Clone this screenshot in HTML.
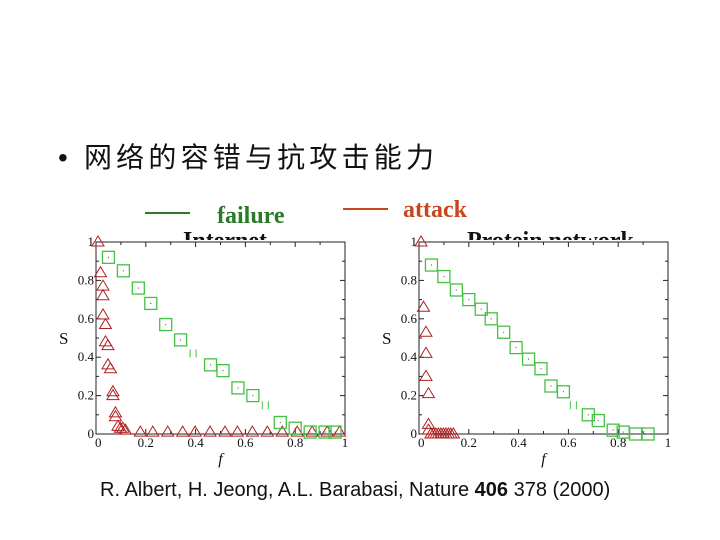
<!DOCTYPE html>
<html><head><meta charset="utf-8">
<style>
body{margin:0;background:#fff;}
#root{position:relative;width:720px;height:540px;overflow:hidden;background:#fff;font-family:"Liberation Serif",serif;}
.abs{position:absolute;white-space:nowrap;}
</style></head>
<body>
<div id="root">
<div class="abs" style="left:58px;top:136px;font:28px 'Liberation Sans','Noto Sans CJK SC',sans-serif;letter-spacing:4.2px;color:#111;">•&nbsp;网络的容错与抗攻击能力</div>
<div class="abs" style="left:145px;top:212px;width:45px;height:2px;background:#2a7a2a;"></div>
<div class="abs" style="left:217px;top:203px;font:bold 24px 'Liberation Serif',serif;color:#2a7a2a;">failure</div>
<div class="abs" style="left:343px;top:208px;width:45px;height:2px;background:#c8461e;"></div>
<div class="abs" style="left:403px;top:197px;font:bold 24px 'Liberation Serif',serif;color:#c8461e;">attack</div>
<div class="abs" style="left:183px;top:229px;height:11px;overflow:hidden;font:bold 24px 'Liberation Serif',serif;color:#111;line-height:24px;">Internet</div>
<div class="abs" style="left:467px;top:229px;height:11px;overflow:hidden;font:bold 24px 'Liberation Serif',serif;color:#111;line-height:24px;">Protein network</div>
<svg id="chart" class="abs" style="left:0;top:0" width="720" height="540"></svg>
<div class="abs" style="left:100px;top:479px;font:20px 'Liberation Sans',sans-serif;color:#111;">R. Albert, H. Jeong, A.L. Barabasi, Nature <b>406</b> 378 (2000)</div>
</div>
<script>
const xTicks=[0,0.2,0.4,0.6,0.8,1];
const xTickLabels=["0","0.2","0.4","0.6","0.8","1"];
const yTicks=[0,0.2,0.4,0.6,0.8,1];
const yTickLabels=["0","0.2","0.4","0.6","0.8","1"];
const internetFailF=[0.05,0.11,0.17,0.22,0.28,0.34,0.46,0.51,0.57,0.63,0.74,0.80,0.86,0.92,0.96];
const internetFailS=[0.92,0.85,0.76,0.68,0.57,0.49,0.36,0.33,0.24,0.20,0.06,0.03,0.01,0.01,0.01];
const internetAttF=[0,0.01,0.02,0.02,0.02,0.03,0.03,0.04,0.04,0.05,0.06,0.06,0.07,0.07,0.08,0.09,0.1,0.11,0.17,0.22,0.28,0.34,0.39,0.45,0.51,0.56,0.62,0.68,0.74,0.80,0.86,0.92,0.97];
const internetAttS=[1,0.84,0.77,0.72,0.62,0.57,0.48,0.46,0.36,0.34,0.22,0.20,0.11,0.09,0.04,0.03,0.03,0.02,0.01,0.01,0.01,0.01,0.01,0.01,0.01,0.01,0.01,0.01,0.01,0.01,0.01,0.01,0.01];
const proteinFailF=[0.05,0.1,0.15,0.2,0.25,0.29,0.34,0.39,0.44,0.49,0.53,0.58,0.68,0.72,0.78,0.82,0.87,0.92];
const proteinFailS=[0.88,0.82,0.75,0.70,0.65,0.60,0.53,0.45,0.39,0.34,0.25,0.22,0.10,0.07,0.02,0.01,0.0,0.0];
const proteinAttF=[0,0.01,0.02,0.02,0.02,0.03,0.03,0.03,0.04,0.05,0.06,0.07,0.08,0.09,0.1,0.11,0.12,0.13];
const proteinAttS=[1,0.66,0.53,0.42,0.30,0.21,0.05,0.02,0,0,0,0,0,0,0,0,0,0];
const internetErrF=[0.39,0.68]; const internetErrS=[0.42,0.15];
const proteinErrF=[0.62]; const proteinErrS=[0.15];

const svg=document.getElementById('chart');
const NS='http://www.w3.org/2000/svg';
function mk(tag,attrs,parent){const e=document.createElementNS(NS,tag);for(const k in attrs)e.setAttribute(k,attrs[k]);(parent||svg).appendChild(e);return e;}
function panel(name,x0,x1,y0,y1,failF,failS,attF,attS,errF,errS){
  const g=mk('g',{});
  
  
  const sx=f=>x0+f*(x1-x0), sy=s=>y0-s*(y0-y1);
  const fr=mk('rect',{x:x0,y:y1,width:x1-x0,height:y0-y1,fill:'none',stroke:'#222','stroke-width':1},g);
  
  
  for(let i=0;i<=10;i++){const xx=sx(i/10);mk('line',{x1:xx,y1:y0,x2:xx,y2:y0-(i%2?3:5),stroke:'#222'},g);mk('line',{x1:xx,y1:y1,x2:xx,y2:y1+(i%2?3:5),stroke:'#222'},g);
    const yy=sy(i/10);mk('line',{x1:x0,y1:yy,x2:x0+(i%2?3:5),y2:yy,stroke:'#222'},g);mk('line',{x1:x1,y1:yy,x2:x1-(i%2?3:5),y2:yy,stroke:'#222'},g);}
  xTicks.forEach((t,i)=>{const tx=mk('text',{x:sx(t)+(i==0?-1:0),y:y0+13,'text-anchor':i==0?'start':'middle','font-family':'Liberation Serif, serif','font-size':13,fill:'#111'},g);tx.textContent=xTickLabels[i];
    });
  yTicks.forEach((t,i)=>{const tx=mk('text',{x:x0-2,y:sy(t)+4,'text-anchor':'end','font-family':'Liberation Serif, serif','font-size':13,fill:'#111'},g);tx.textContent=yTickLabels[i];
    });
  const xl=mk('text',{x:sx(0.5),y:y0+30,'text-anchor':'middle','font-family':'Liberation Serif, serif','font-style':'italic','font-size':16,fill:'#111'},g);xl.textContent='f';
  
  const yl=mk('text',{x:x0-37,y:sy(0.5)+6,'font-family':'Liberation Serif, serif','font-size':17,fill:'#111'},g);yl.textContent='S';
  
  attF.forEach((f,i)=>{const cx=sx(f)+2,cy=sy(attS[i]);const p=mk('polygon',{points:`${cx-6},${cy+4} ${cx+6},${cy+4} ${cx},${cy-6}`,fill:'none',stroke:'#b02020','stroke-width':1},g);
    });
  failF.forEach((f,i)=>{const cx=sx(f),cy=sy(failS[i]);const r=mk('rect',{x:cx-6,y:cy-6,width:12,height:12,fill:'none',stroke:'#44c044','stroke-width':1.3},g);
    
    mk('rect',{x:cx-0.5,y:cy-0.5,width:1,height:1,fill:'#444'},g);});
  errF.forEach((f,i)=>{const cx=sx(f),cy=sy(errS[i]);const e=mk('path',{d:`M${cx-3},${cy-4}v8M${cx+3},${cy-4}v8`,stroke:'#44c044','stroke-width':1},g);
    });
}
panel('internet-chart',96,345,434,242,internetFailF,internetFailS,internetAttF,internetAttS,internetErrF,internetErrS);
panel('protein-chart',419,668,434,242,proteinFailF,proteinFailS,proteinAttF,proteinAttS,proteinErrF,proteinErrS);
</script>
</body></html>
